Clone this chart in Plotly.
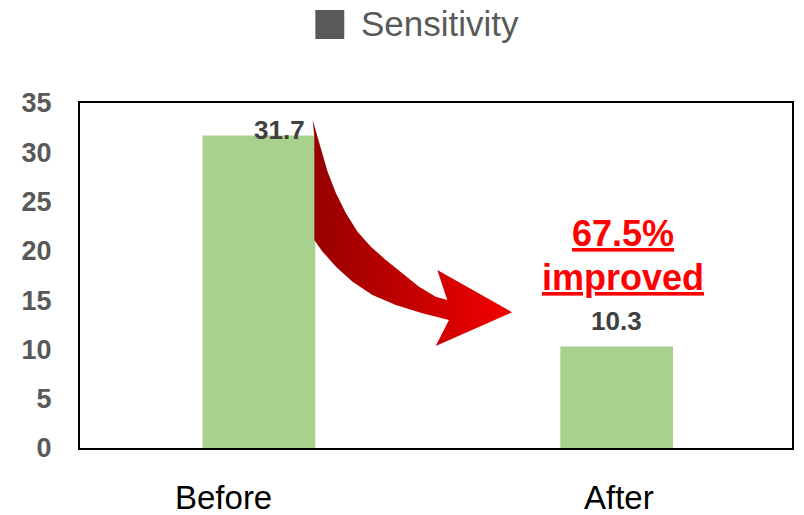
import plotly.graph_objects as go

# Chart data
categories = ["Before", "After"]
sensitivity = [31.7, 10.3]
series_name = "Sensitivity"
improvement_text = ["67.5%", "improved"]
y_ticks = [0, 5, 10, 15, 20, 25, 30, 35]

# Canvas geometry (pixels)
W, H = 804, 515
L, R, T, B = 80, 10, 103, 67
PX0, PX1 = L, W - R
PY0, PY1 = H - B, T

BAR_COLOR = "#a9d18e"
LABEL_GRAY = "#404040"
AXIS_GRAY = "#595959"
FONT = "Liberation Sans"


def px_x(px):
    return (px - PX0) / (PX1 - PX0)


def px_y(py):
    return (PY0 - py) / (PY0 - PY1)


fig = go.Figure()

fig.add_trace(go.Bar(
    x=categories, y=sensitivity, width=0.315,
    marker=dict(color=BAR_COLOR, line=dict(width=0)),
    showlegend=False, hoverinfo="skip",
))

# Curved arrow outline, drawn on a pixel-scaled overlay axis
arrow_x = [313.3, 316.7, 321.7, 328.3, 336.7, 346.7, 358.3, 371.7, 386.7, 403.3,
           420.0, 436.7, 448.3, 438.3, 513.3, 436.7, 450.0, 423.3, 396.7, 373.3,
           353.3, 336.7, 323.3, 315.0, 315.0, 313.3]
arrow_y = [120.0, 131.7, 150.0, 171.7, 193.3, 213.3, 231.7, 246.7, 260.0, 273.3,
           286.7, 296.7, 300.0, 270.0, 312.3, 346.0, 320.0, 313.3, 305.0, 295.0,
           281.7, 266.7, 251.7, 240.0, 136.7, 120.0]
fig.add_trace(go.Scatter(
    x=arrow_x, y=arrow_y, xaxis="x2", yaxis="y2",
    mode="lines", line=dict(width=0, color="rgba(0,0,0,0)"),
    fill="toself",
    fillgradient=dict(type="horizontal",
                      colorscale=[[0, "#960000"], [0.5, "#c40000"], [1, "#f50000"]]),
    showlegend=False, hoverinfo="skip",
))

annotations = []

# Category labels under the plot
label_shift = [-35, 2]
for cat, dx in zip(categories, label_shift):
    annotations.append(dict(
        x=cat, y=0, xref="x", yref="y", text=cat, showarrow=False,
        xshift=dx, yshift=-49, xanchor="center", yanchor="middle",
        font=dict(family=FONT, size=33, color="#000000"),
    ))

# Value labels
value_offsets = [(21, 6), (0, 25)]
for cat, val, (dx, dy) in zip(categories, sensitivity, value_offsets):
    annotations.append(dict(
        x=cat, y=val, xref="x", yref="y", text=f"{val}", showarrow=False,
        xshift=dx, yshift=dy, xanchor="center", yanchor="middle",
        font=dict(family=FONT, size=26, color=LABEL_GRAY, weight="bold"),
    ))

# Improvement callout
for line, py in zip(improvement_text, [234, 277]):
    annotations.append(dict(
        x=px_x(625), y=px_y(py), xref="paper", yref="paper",
        text=f"<u>{line}</u>", showarrow=False,
        xanchor="center", yanchor="middle",
        font=dict(family=FONT, size=36, color="#ff0000", weight="bold"),
    ))

# Legend entry
annotations.append(dict(
    x=px_x(360), y=px_y(24), xref="paper", yref="paper",
    text=series_name, showarrow=False, xanchor="left", yanchor="middle",
    font=dict(family=FONT, size=35, color=AXIS_GRAY),
))
shapes = [dict(
    type="rect", xref="paper", yref="paper",
    x0=px_x(316), x1=px_x(345), y0=px_y(39), y1=px_y(10),
    fillcolor=AXIS_GRAY, line=dict(width=0),
)]

fig.update_layout(
    width=W, height=H,
    margin=dict(l=L, r=R, t=T, b=B, pad=0),
    plot_bgcolor="white", paper_bgcolor="white",
    xaxis=dict(
        type="category", range=[-0.5, 1.49], showticklabels=False,
        showgrid=False, zeroline=False, ticks="",
        showline=True, linecolor="#000000", linewidth=2, mirror=True,
    ),
    yaxis=dict(
        range=[0, 35], tickvals=y_ticks, showgrid=False, zeroline=False,
        ticks="", ticklabelstandoff=21,
        tickfont=dict(family=FONT, size=27, color=AXIS_GRAY, weight="bold"),
        showline=True, linecolor="#000000", linewidth=2, mirror=True,
    ),
    xaxis2=dict(overlaying="x", range=[PX0, PX1], visible=False, fixedrange=True),
    yaxis2=dict(overlaying="y", range=[PY0, PY1], visible=False, fixedrange=True),
    annotations=annotations,
    shapes=shapes,
    showlegend=False,
)

fig.write_html("out.html")
